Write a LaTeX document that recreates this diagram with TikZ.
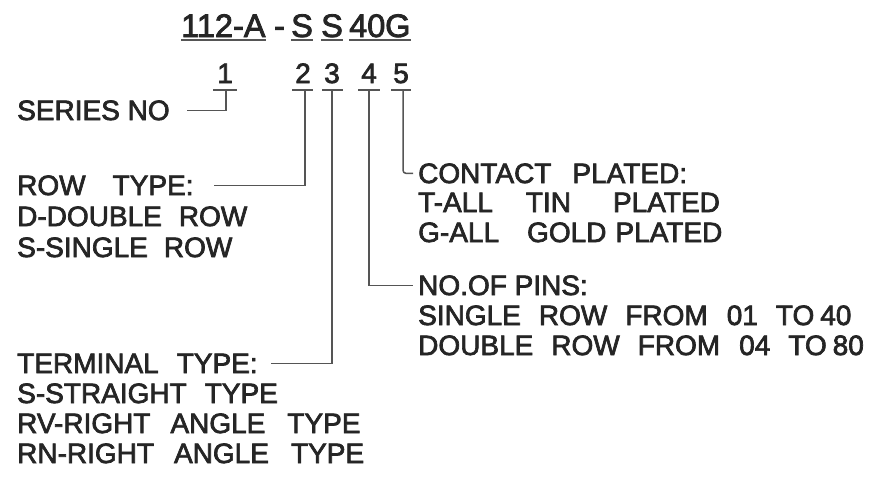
\documentclass[tikz,border=0pt]{standalone}
\usepackage{fontspec}
\setmainfont{Liberation Sans}
\newfontfamily\labfont[FakeBold=2.5]{Liberation Sans}
\definecolor{ink}{HTML}{252525}
\definecolor{wire}{HTML}{555555}
\newcommand{\gp}[1]{\hspace{#1pt}}
\begin{document}
\begin{tikzpicture}[x=1pt,y=-1pt,
  lbl/.style={anchor=base west,inner sep=0pt,text=ink,font=\labfont\fontsize{28}{28}\selectfont},
  code/.style={anchor=base west,inner sep=0pt,text=ink,font=\labfont\fontsize{32.5}{32.5}\selectfont},
  dig/.style={anchor=base,inner sep=0pt,text=ink,font=\labfont\fontsize{28}{28}\selectfont},
  uline/.style={draw=wire,line width=2pt},
  leader/.style={draw=wire,line width=1.5pt}]
\useasboundingbox (0,0) rectangle (881,477);
% code line
\node[code] (c1) at (181,37) {112-A};
\node[code] (c2) at (274,37) {-};
\node[code] (c3) at (291,37) {S};
\node[code] (c4) at (321,37) {S};
\node[code] (c5) at (349,37) {40};
\node[code] (c6) at (385,37) {G};
\foreach \n in {c1,c3,c4,c5,c6}
  \draw[uline] ([yshift=-3pt]\n.base west) -- ([yshift=-3pt]\n.base east);
% digits
\node[dig] (d1) at (225,83) {1};
\node[dig] (d2) at (303,83) {2};
\node[dig] (d3) at (332,83) {3};
\node[dig] (d4) at (369,83) {4};
\node[dig] (d5) at (401,83) {5};
\coordinate (u1) at (226,90);
\coordinate (u2) at (305,90);
\coordinate (u3) at (332,90);
\coordinate (u4) at (369,90);
\coordinate (u5) at (403,90);
\draw[uline] (213,90) -- (237,90);
\draw[uline] (292,90) -- (313,90);
\draw[uline] (322,90) -- (343,90);
\draw[uline] (358,90) -- (380,90);
\draw[uline] (391,90) -- (411,90);
% labels
\node[lbl] (series) at (17,120) {SERIES NO};
\node[lbl] (row) at (17,195) {ROW\gp{27}TYPE:};
\node[lbl] (row1) at (17,226) {D-DOUBLE\gp{17}ROW};
\node[lbl] (row2) at (17,257) {S-SINGLE\gp{16}ROW};
\node[lbl] (contact) at (418,183) {CONTACT\gp{21}PLATED:};
\node[lbl] (contact1) at (418,212) {T-ALL\gp{33}TIN\gp{42}PLATED};
\node[lbl] (contact2) at (418,242) {G-ALL\gp{28}GOLD\gp{9}PLATED};
\node[lbl] (pins) at (418,295) {NO.OF PINS:};
\node[lbl] (pins1) at (418,325) {SINGLE\gp{18}ROW\gp{18}FROM\gp{19}01\gp{18}TO\gp{6}40};
\node[lbl] (pins2) at (418,355) {DOUBLE\gp{18}ROW\gp{18}FROM\gp{19}04\gp{18}TO\gp{6}80};
\node[lbl] (term) at (17,373) {TERMINAL\gp{18}TYPE:};
\node[lbl] (term1) at (17,403) {S-STRAIGHT\gp{18}TYPE};
\node[lbl] (term2) at (17,433) {RV-RIGHT\gp{20}ANGLE\gp{22}TYPE};
\node[lbl] (term3) at (17,463) {RN-RIGHT\gp{20}ANGLE\gp{22}TYPE};
% leaders
\draw[leader] (u1) |- ([xshift=17pt]series.east);
\draw[leader] (u2) |- ([xshift=20pt]row.east);
\draw[leader] (u3) |- ([xshift=13pt]term.east);
\draw[leader] (u4) |- ([xshift=-5pt]pins.west);
\draw[leader,rounded corners=3pt] (u5) |- ([xshift=-5pt]contact.west);
\end{tikzpicture}
\end{document}
